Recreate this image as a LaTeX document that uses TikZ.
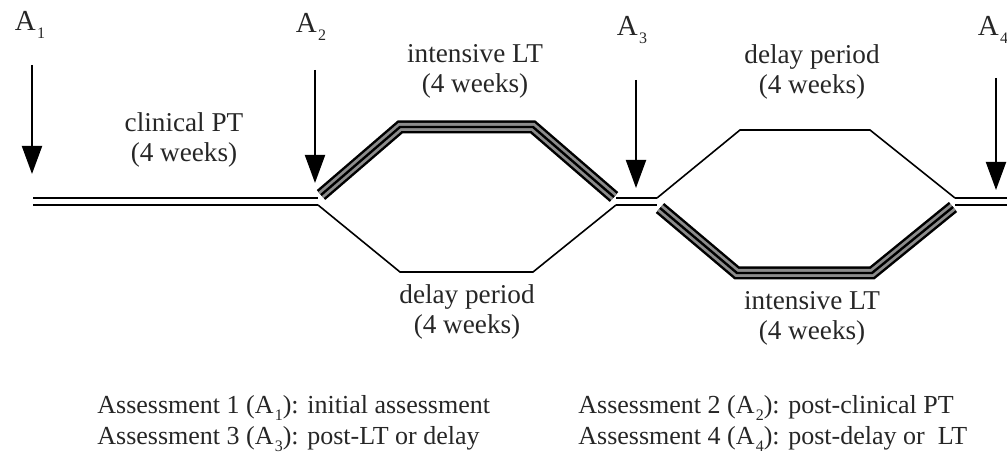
\documentclass[tikz,border=0pt]{standalone}
\usepackage{fontspec}
\setmainfont{Liberation Serif}
\usetikzlibrary{arrows.meta}

\tikzset{
  dline/.style={line width=0.65pt, double=white, double distance=2.85pt},
  thin/.style={line width=0.8pt, line join=miter},
  arr/.style={line width=1pt, -{Triangle[length=14pt,width=10pt]}},
  lbl/.style={font=\fontsize{13.6}{15}\selectfont, align=center, text=black!85},
  alab/.style={font=\fontsize{14.5}{15}\selectfont, text=black!85},
  note/.style={font=\fontsize{13}{15}\selectfont, text=black!85, anchor=base west, inner sep=0pt}
}
\newcommand{\band}[1]{%
  \draw[line width=6.5pt, line join=miter] #1;
  \draw[line width=4pt, black!45, line join=miter] #1;
  \draw[line width=1.2pt, line join=miter] #1;}
\newcommand{\sbs}[1]{\kern0.6pt\raisebox{-0.55ex}{\footnotesize #1}}

\begin{document}
\begin{tikzpicture}[x=0.5pt, y=-0.5pt]
  \useasboundingbox (0,0) rectangle (1007,464);

  % junctions on the main line
  \coordinate (s0) at (33,201.5);
  \coordinate (j2) at (318,201.5);
  \coordinate (j3a) at (616,201.5);
  \coordinate (j3b) at (657,201.5);
  \coordinate (j4) at (955,201.5);
  \coordinate (e0) at (1015,201.5);

  \draw[dline] (s0) -- (j2);
  \draw[dline] (j3a) -- (j3b);
  \draw[dline] (j4) -- (e0);

  % first branch
  \band{(321,195) -- (400,127) -- (533,127) -- (614,197)}
  \draw[thin] (318,205) -- (400,272) -- (533,272) -- (616,205);

  % second branch
  \draw[thin] (657,198) -- (740,130) -- (870,130) -- (955,198);
  \band{(660,208) -- (737,273) -- (872,273) -- (953,207)}

  % assessments
  \node[alab] (a1) at (30,25) {A\sbs{1}};
  \node[alab] (a2) at (311,27) {A\sbs{2}};
  \node[alab] (a3) at (632,30) {A\sbs{3}};
  \node[alab] (a4) at (993,30) {A\sbs{4}};

  \coordinate (t1) at (32,174);
  \coordinate (t2) at (315,183);
  \coordinate (t3) at (636,188);
  \coordinate (t4) at (996,190);

  \draw[arr] (32,65) -- (t1);
  \draw[arr] (315,70) -- (t2);
  \draw[arr] (636,80) -- (t3);
  \draw[arr] (996,78) -- (t4);

  % period labels
  \node[lbl] (cpt) at (184,140) {clinical PT\\(4 weeks)};
  \node[lbl] (ilt1) at (475,71) {intensive LT\\(4 weeks)};
  \node[lbl] (dp1) at (467,312) {delay period\\(4 weeks)};
  \node[lbl] (dp2) at (812,72) {delay period\\(4 weeks)};
  \node[lbl] (ilt2) at (812,318) {intensive LT\\(4 weeks)};

  % legend
  \node[note] (n1) at (97,414) {Assessment 1 (A\sbs{1}): initial assessment};
  \node[note] (n3) at (97,445) {Assessment 3 (A\sbs{3}): post-LT or delay};
  \node[note] (n2) at (578,414) {Assessment 2 (A\sbs{2}): post-clinical PT};
  \node[note] (n4) at (578,445) {Assessment 4 (A\sbs{4}): post-delay or\ \ LT};
\end{tikzpicture}
\end{document}
